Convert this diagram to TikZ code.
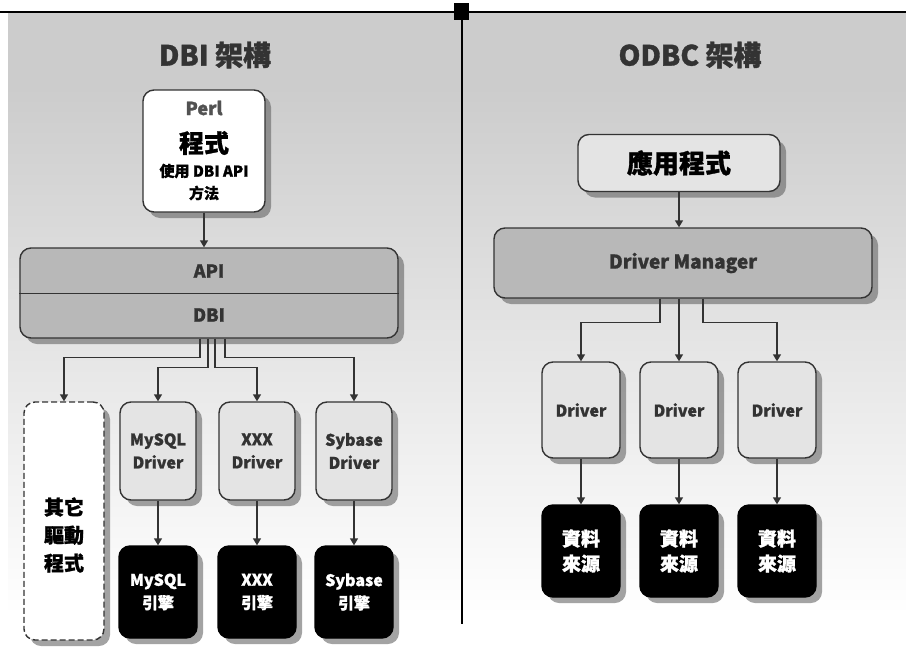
\documentclass[tikz,border=0pt]{standalone}
\usepackage{fontspec}
\setmainfont{Noto Sans CJK TC}[BoldFeatures={FakeBold=1.2}]
\usetikzlibrary{arrows.meta,shadows}
\definecolor{ink}{HTML}{333333}
\definecolor{band}{HTML}{CCCCCC}
\definecolor{midgray}{HTML}{B8B8B8}
\definecolor{lightbox}{HTML}{E4E4E4}
\begin{document}
\begin{tikzpicture}[x=1pt,y=-1pt,
  shad/.style={drop shadow={shadow xshift=6pt,shadow yshift=-6pt,fill=black!65,opacity=0.55}},
  box/.style={draw=ink,line width=1.4pt,rounded corners=11pt,inner sep=0pt,align=center,shad,
              font=\bfseries\fontsize{16}{23}\selectfont,text=ink},
  whitebox/.style={box,fill=white},
  graybox/.style={box,fill=midgray},
  lightb/.style={box,fill=lightbox},
  blackbox/.style={box,fill=black,draw=black,text=white},
  dashbox/.style={box,fill=white,dashed,dash pattern=on 6pt off 3pt},
  lbl/.style={inner sep=0pt,font=\bfseries},
  conn/.style={draw=ink,line width=1.4pt,-{Triangle[width=8pt,length=7pt]}},
  plain/.style={draw=ink,line width=1.4pt}]
\useasboundingbox (0,0) rectangle (906,646);
% background
\fill[white] (0,0) rectangle (906,646);
\fill[band] (8,12) rectangle (906,86);
\shade[top color=black!20,bottom color=white] (8,86) rectangle (906,615);
\draw[line width=1.6pt] (0,12) -- (906,12);
\draw[line width=2.4pt] (462,12) -- (462,624);
\fill (454,3) rectangle (469,20);
% titles
\node[lbl,text=ink,font=\bfseries\fontsize{28}{30}\selectfont] (t1) at (215,55) {DBI 架構};
\node[lbl,text=ink,font=\bfseries\fontsize{28}{30}\selectfont] (t2) at (690,55) {ODBC 架構};
% ---------- left: DBI ----------
\node[whitebox,minimum width=122pt,minimum height=122pt] (perl) at (204,151) {};
\node[lbl,text=ink!85,font=\bfseries\fontsize{18}{20}\selectfont] (perl1) at (204,108) {Perl};
\node[lbl,text=black,font=\bfseries\fontsize{25}{27}\selectfont] (perl2) at (204,143) {程式};
\node[lbl,text=black,font=\bfseries\fontsize{15}{17}\selectfont] (perl3) at (204,171) {使用 DBI API};
\node[lbl,text=black,font=\bfseries\fontsize{15}{17}\selectfont] (perl4) at (204,193) {方法};

\node[graybox,minimum width=378pt,minimum height=90pt] (apidbi) at (209,293) {};
\draw[plain,line width=1pt] (apidbi.west) -- (apidbi.east);
\node[lbl,text=ink,font=\bfseries\fontsize{18}{20}\selectfont] (api) at (209,271) {API};
\node[lbl,text=ink,font=\bfseries\fontsize{18}{20}\selectfont] (dbi) at (209,315) {DBI};
\draw[conn] (perl.south) -- (apidbi.north -| perl.south);

\node[dashbox,minimum width=80pt,minimum height=238pt] (other) at (64,521) {};
\node[lbl,align=center,text=black,font=\bfseries\fontsize{20}{28}\selectfont] (othert) at (64,535) {其它\\驅動\\程式};
\node[lightb,minimum width=76pt,minimum height=98pt] (mysqld) at (158,451) {MySQL\\Driver};
\node[lightb,minimum width=76pt,minimum height=98pt] (xxxd) at (257,451) {XXX\\Driver};
\node[lightb,minimum width=76pt,minimum height=98pt] (sybd) at (354,451) {Sybase\\Driver};

\node[blackbox,minimum width=78pt,minimum height=92pt] (mysqle) at (158,592) {MySQL\\引擎};
\node[blackbox,minimum width=78pt,minimum height=92pt] (xxxe) at (257,592) {XXX\\引擎};
\node[blackbox,minimum width=78pt,minimum height=92pt] (sybe) at (354,592) {Sybase\\引擎};

\draw[conn] ([xshift=-9pt]apidbi.south) -- ++(0,19) -| (other.north);
\draw[conn] ([xshift=-1pt]apidbi.south) -- ++(0,29) -| (mysqld.north);
\draw[conn] ([xshift=6pt]apidbi.south) -- ++(0,29) -| (xxxd.north);
\draw[conn] ([xshift=16pt]apidbi.south) -- ++(0,19) -| (sybd.north);

\draw[conn] (mysqld.south) -- (mysqle.north);
\draw[conn] (xxxd.south) -- (xxxe.north);
\draw[conn] (sybd.south) -- (sybe.north);
% ---------- right: ODBC ----------
\node[lightb,minimum width=202pt,minimum height=57pt,text=black,font=\bfseries\fontsize{26}{28}\selectfont] (app) at (679,163) {應用程式};
\node[graybox,minimum width=378pt,minimum height=70pt,font=\bfseries\fontsize{19}{21}\selectfont] (dm) at (683,263) {Driver Manager};
\draw[conn] (app.south) -- (dm.north -| app.south);

\node[lightb,minimum width=78pt,minimum height=96pt] (drv1) at (581,410) {Driver};
\node[lightb,minimum width=78pt,minimum height=96pt] (drv2) at (679,410) {Driver};
\node[lightb,minimum width=78pt,minimum height=96pt] (drv3) at (777,410) {Driver};

\node[blackbox,minimum width=78pt,minimum height=92pt,font=\bfseries\fontsize{19}{25}\selectfont] (ds1) at (581,551) {資料\\來源};
\node[blackbox,minimum width=78pt,minimum height=92pt,font=\bfseries\fontsize{19}{25}\selectfont] (ds2) at (679,551) {資料\\來源};
\node[blackbox,minimum width=78pt,minimum height=92pt,font=\bfseries\fontsize{19}{25}\selectfont] (ds3) at (777,551) {資料\\來源};

\draw[conn] ([xshift=-23pt]dm.south) -- ++(0,24) -| (drv1.north);
\draw[conn] (dm.south -| drv2.north) -- (drv2.north);
\draw[conn] ([xshift=20pt]dm.south) -- ++(0,24) -| (drv3.north);

\draw[conn] (drv1.south) -- (ds1.north);
\draw[conn] (drv2.south) -- (ds2.north);
\draw[conn] (drv3.south) -- (ds3.north);
\end{tikzpicture}
\end{document}
